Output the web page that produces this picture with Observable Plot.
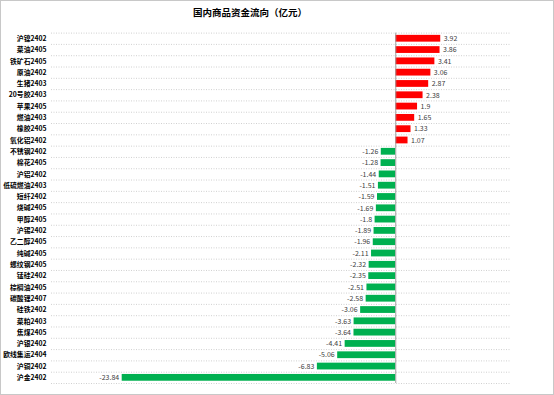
<!DOCTYPE html>
<html>
<head>
<meta charset="utf-8">
<script src="https://cdn.jsdelivr.net/npm/d3@7"></script>
<script src="https://cdn.jsdelivr.net/npm/@observablehq/plot@0.6"></script>
<style>
  body { margin: 0; background: #fff; }
  #wrap { position: relative; width: 554px; height: 395px; overflow: hidden; font-family: "Noto Sans CJK SC", sans-serif; }
  #title { position: absolute; top: 5px; left: 0; width: 500px; text-align: center; font-size: 9.5px; font-weight: bold; color: #000; }
  #border { position: absolute; left: 0; top: 0; width: 554px; height: 395px; box-sizing: border-box; border: 1px solid #c8c8c8; pointer-events: none; }
</style>
</head>
<body>
<div id="wrap">
  <div id="chart"></div>
  <div id="title">国内商品资金流向（亿元）</div>
  <div id="border"></div>
</div>
<script>
const categories = ["沪镍2402","菜油2405","铁矿石2405","原油2402","生猪2403","20号胶2403","苹果2405","燃油2403","橡胶2405","氧化铝2402","不锈钢2402","棉花2405","沪铝2402","低硫燃油2403","短纤2402","烧碱2405","甲醇2405","沪锡2402","乙二醇2405","纯碱2405","螺纹钢2405","锰硅2402","棕榈油2405","碳酸锂2407","硅铁2402","菜粕2403","焦煤2405","沪银2402","欧线集运2404","沪铜2402","沪金2402"];
const values = [3.92,3.86,3.41,3.06,2.87,2.38,1.9,1.65,1.33,1.07,-1.26,-1.28,-1.44,-1.51,-1.59,-1.69,-1.8,-1.89,-1.96,-2.11,-2.32,-2.35,-2.51,-2.58,-3.06,-3.63,-3.64,-4.41,-5.06,-6.83,-23.84];

const data = categories.map((c, i) => ({name: c, value: values[i]}));
const W = 554, H = 395, mt = 32.6, mb = 12;
const step = (H - mt - mb) / categories.length;

const chart = Plot.plot({
  width: W, height: H,
  marginLeft: 51, marginRight: 44, marginTop: mt, marginBottom: mb,
  style: {fontFamily: "'Noto Sans CJK SC', sans-serif", background: "#fff"},
  x: {domain: [-30, 10], axis: null},
  y: {domain: categories, paddingInner: 0.4, paddingOuter: 0.2, round: false, label: null, tickSize: 0, tickPadding: 5},
  marks: [
    Plot.ruleY(categories, {y: d => d, dy: -step / 2, stroke: "#d0d0d0", strokeDasharray: "1,1.5", x1: -30, x2: 10}),
    Plot.ruleY([categories[categories.length - 1]], {y: d => d, dy: step / 2, stroke: "#d0d0d0", strokeDasharray: "1,1.5", x1: -30, x2: 10}),
    Plot.barX(data, {y: "name", x: "value", fill: d => d.value >= 0 ? "#ff0000" : "#00b050"}),
    Plot.ruleX([0], {stroke: "#a0a0a0", strokeWidth: 1}),
    Plot.text(data.filter(d => d.value >= 0), {y: "name", x: "value", text: d => String(d.value), textAnchor: "start", dx: 3, fontSize: 7, fill: "#404040"}),
    Plot.text(data.filter(d => d.value < 0), {y: "name", x: "value", text: d => String(d.value), textAnchor: "end", dx: -3, fontSize: 7, fill: "#404040"}),
    Plot.axisY({tickSize: 0, tickPadding: 5, fontSize: 6.8, fontWeight: "bold", fill: "#000", label: null})
  ]
});
document.getElementById("chart").appendChild(chart);
</script>
</body>
</html>
